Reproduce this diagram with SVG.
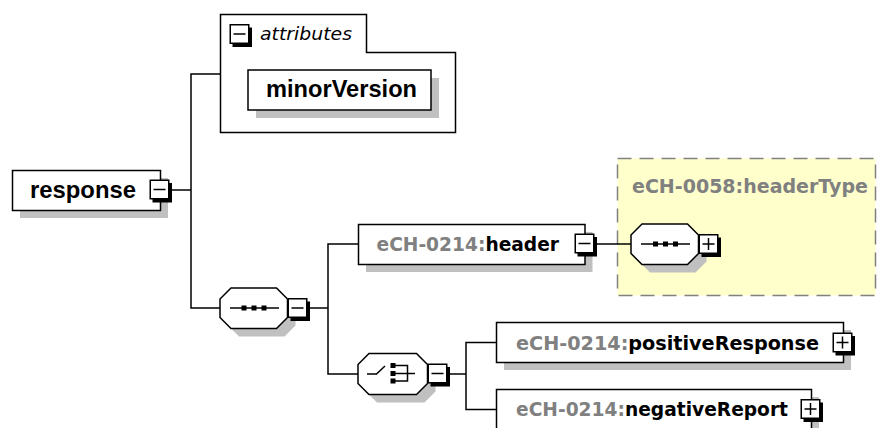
<svg xmlns="http://www.w3.org/2000/svg" xmlns:xlink="http://www.w3.org/1999/xlink" width="877" height="428" viewBox="0 0 877 428">
<style>
.ln{stroke:#000;stroke-width:1.5;fill:none}
.box{fill:#fff;stroke:#000;stroke-width:1.5}
.sh{fill:#c0c0c0}
.nm{font-family:"DejaVu Sans","Liberation Sans",sans-serif;font-weight:bold;font-size:18.7px;fill:#000}
.big{font-family:"Liberation Sans",Arial,sans-serif;font-weight:bold;font-size:24px;fill:#000}
.ns{fill:#808080}
.sq{fill:#000}
</style>
<defs>
<g id="btn">
<rect x="3" y="-7" width="19.5" height="19.5" fill="#000"/>
<rect x="0.75" y="-9.75" width="18.5" height="18.5" fill="#fff" stroke="#000" stroke-width="1.5"/>
</g>
<g id="minus">
<use xlink:href="#btn"/>
<line x1="4" y1="-0.5" x2="16" y2="-0.5" stroke="#000" stroke-width="1.5"/>
</g>
<g id="plus">
<use xlink:href="#btn"/>
<line x1="4" y1="-0.5" x2="16" y2="-0.5" stroke="#000" stroke-width="1.5"/>
<line x1="10" y1="-6.5" x2="10" y2="5.5" stroke="#000" stroke-width="1.5"/>
</g>
</defs>
<rect width="877" height="428" fill="#fff"/>

<g id="headerType">
<rect x="617.5" y="158.5" width="258" height="137" fill="#ffffcc" stroke="#808080" stroke-width="1.5" stroke-dasharray="14 8"/>
<text class="nm ns" x="632" y="192.5" textLength="236" lengthAdjust="spacingAndGlyphs">eCH-0058:headerType</text>
</g>

<g id="connectors" class="ln">
<polyline points="172,190 191,190"/>
<polyline points="220,74 191,74 191,308 220,308"/>
<polyline points="310,308 328,308"/>
<polyline points="358,244 328,244 328,374 358,374"/>
<polyline points="597,244 631,244"/>
<polyline points="450,374 466,374"/>
<polyline points="496.5,342.5 466,342.5 466,409.5 496.5,409.5"/>
</g>

<g id="attributes">
<path d="M220.5,14.5 H366.5 V52.5 H455.5 V132.5 H220.5 Z" fill="#fff" stroke="#000" stroke-width="1.5"/>
<use xlink:href="#minus" x="229.5" y="34.5"/>
<text x="260" y="40" font-family="'DejaVu Sans','Liberation Sans',sans-serif" font-style="italic" font-size="18.5" textLength="92" lengthAdjust="spacingAndGlyphs">attributes</text>
</g>

<g id="minorVersion">
<rect class="sh" x="256" y="78" width="183" height="40"/>
<rect class="box" x="248" y="70" width="183" height="40"/>
<text class="big" x="266" y="97" font-size="23.5" textLength="151" lengthAdjust="spacingAndGlyphs">minorVersion</text>
</g>

<g id="response">
<rect class="sh" x="20" y="178" width="148" height="40"/>
<rect class="box" x="12.5" y="170.5" width="148" height="40"/>
<text class="big" x="30" y="197.5" textLength="106" lengthAdjust="spacingAndGlyphs">response</text>
<use xlink:href="#minus" x="149.5" y="190"/>
</g>

<g id="sequence1">
<path class="sh" d="M239,296 H284.5 L295.5,307 V325.5 L284.5,336.5 H239 L228,325.5 V307 Z"/>
<path class="box" d="M231,288 H276.5 L287.5,299 V317.5 L276.5,328.5 H231 L220,317.5 V299 Z"/>
<line class="ln" x1="230" y1="308" x2="279" y2="308"/>
<rect class="sq" x="241.5" y="305.5" width="5" height="5"/>
<rect class="sq" x="251.5" y="305.5" width="5" height="5"/>
<rect class="sq" x="261.5" y="305.5" width="5" height="5"/>
<use xlink:href="#minus" x="287.5" y="308.5"/>
</g>

<g id="header">
<rect class="sh" x="366" y="232" width="226.5" height="40"/>
<rect class="box" x="358.5" y="224.5" width="226.5" height="40"/>
<text class="nm" x="376.5" y="251" textLength="182.5" lengthAdjust="spacingAndGlyphs"><tspan class="ns">eCH-0214:</tspan>header</text>
<use xlink:href="#minus" x="574.5" y="244"/>
</g>

<g id="sequence2">
<path class="sh" d="M650,232 H695.5 L706.5,243 V261.5 L695.5,272.5 H650 L639,261.5 V243 Z"/>
<path class="box" d="M642,224 H687.5 L698.5,235 V253.5 L687.5,264.5 H642 L631,253.5 V235 Z"/>
<line class="ln" x1="641" y1="244" x2="690" y2="244"/>
<rect class="sq" x="653" y="241.5" width="5" height="5"/>
<rect class="sq" x="663" y="241.5" width="5" height="5"/>
<rect class="sq" x="673" y="241.5" width="5" height="5"/>
<use xlink:href="#plus" x="698.5" y="244.5"/>
</g>

<g id="choice">
<path class="sh" d="M377,361.5 H424.5 L435.5,372.5 V391.5 L424.5,402.5 H377 L366,391.5 V372.5 Z"/>
<path class="box" d="M369,353.5 H416.5 L427.5,364.5 V383.5 L416.5,394.5 H369 L358,383.5 V364.5 Z"/>
<polyline class="ln" points="367,374 376.5,374 385,366"/>
<rect class="sq" x="390.5" y="363" width="5" height="5"/>
<rect class="sq" x="390.5" y="371" width="5" height="5"/>
<rect class="sq" x="390.5" y="378.5" width="5" height="5"/>
<polyline class="ln" points="395,365.5 407.5,365.5 407.5,381 395,381"/>
<line class="ln" x1="395" y1="373.5" x2="415" y2="373.5"/>
<use xlink:href="#minus" x="427.5" y="374"/>
</g>

<g id="positiveResponse">
<rect class="sh" x="504" y="330" width="347" height="40"/>
<rect class="box" x="496.5" y="322.5" width="347" height="40"/>
<text class="nm" x="516" y="349.5" textLength="303" lengthAdjust="spacingAndGlyphs"><tspan class="ns">eCH-0214:</tspan>positiveResponse</text>
<use xlink:href="#plus" x="832.5" y="343"/>
</g>

<g id="negativeReport">
<rect class="sh" x="504" y="397" width="315" height="40"/>
<rect class="box" x="496.5" y="389.5" width="315" height="40"/>
<text class="nm" x="516" y="415.5" textLength="272" lengthAdjust="spacingAndGlyphs"><tspan class="ns">eCH-0214:</tspan>negativeReport</text>
<use xlink:href="#plus" x="800.5" y="409.5"/>
</g>
</svg>
